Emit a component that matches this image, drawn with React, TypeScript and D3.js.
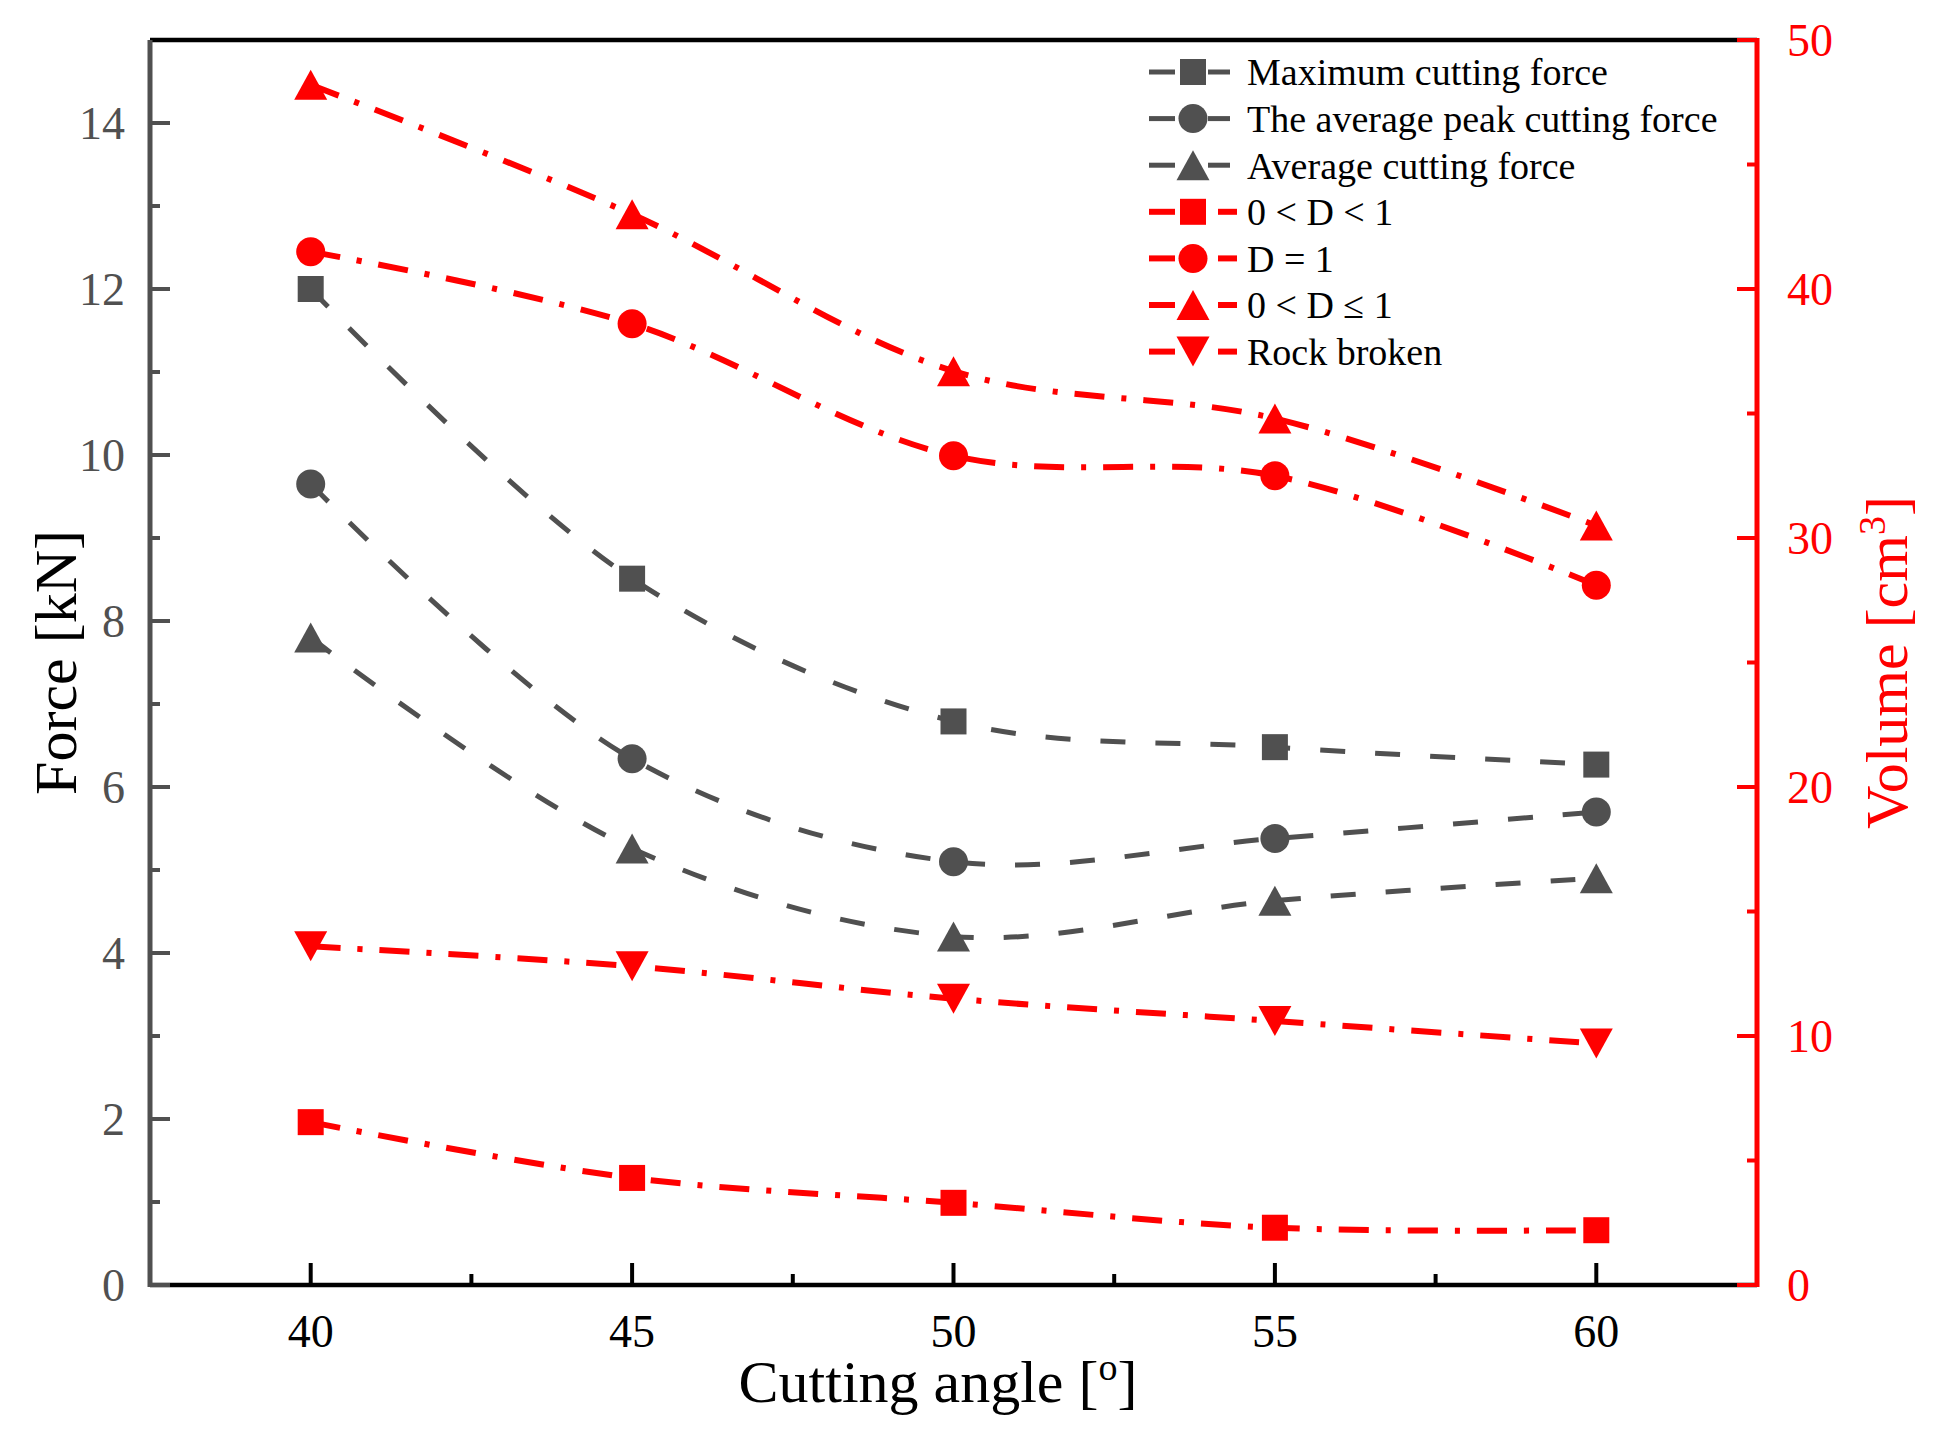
import { useEffect } from 'react'
import * as d3 from 'd3'

const angles = [40, 45, 50, 55, 60]
const maxForce = [12.0, 8.51, 6.79, 6.48, 6.27]
const avgPeakForce = [9.65, 6.34, 5.1, 5.38, 5.7]
const avgForce = [7.8, 5.26, 4.2, 4.63, 4.9]
const volPartial = [6.54, 4.3, 3.3, 2.3, 2.2]
const volFull = [41.5, 38.6, 33.3, 32.5, 28.1]
const volAll = [48.2, 43.0, 36.7, 34.8, 30.5]
const volBroken = [13.6, 12.8, 11.5, 10.6, 9.7]

const forceTicks = [0, 2, 4, 6, 8, 10, 12, 14]
const forceMinor = [1, 3, 5, 7, 9, 11, 13]
const volumeTicks = [0, 10, 20, 30, 40, 50]
const volumeMinor = [5, 15, 25, 35, 45]
const angleTicks = [40, 45, 50, 55, 60]
const angleMinor = [42.5, 47.5, 52.5, 57.5]

const GRAY = '#505050'
const RED = '#ff0000'
const FONT = '"Liberation Serif", "Times New Roman", Times, serif'

type Shape = 'square' | 'circle' | 'up' | 'down'
const series: { label: string; values: number[]; axis: 'left' | 'right'; shape: Shape; color: string }[] = [
  { label: 'Maximum cutting force', values: maxForce, axis: 'left', shape: 'square', color: GRAY },
  { label: 'The average peak cutting force', values: avgPeakForce, axis: 'left', shape: 'circle', color: GRAY },
  { label: 'Average cutting force', values: avgForce, axis: 'left', shape: 'up', color: GRAY },
  { label: '0 < D < 1', values: volPartial, axis: 'right', shape: 'square', color: RED },
  { label: 'D = 1', values: volFull, axis: 'right', shape: 'circle', color: RED },
  { label: '0 < D \u2264 1', values: volAll, axis: 'right', shape: 'up', color: RED },
  { label: 'Rock broken', values: volBroken, axis: 'right', shape: 'down', color: RED },
]

function Marker({ shape, x, y, color }: { shape: Shape; x: number; y: number; color: string }) {
  if (shape === 'circle') return <circle cx={x} cy={y} r={14.5} fill={color} />
  if (shape === 'square') return <rect x={x - 13} y={y - 13} width={26} height={26} fill={color} />
  const w = 33, h = 30
  const d = shape === 'up'
    ? `M${x},${y - h / 2}L${x + w / 2},${y + h / 2}L${x - w / 2},${y + h / 2}Z`
    : `M${x},${y + h / 2}L${x + w / 2},${y - h / 2}L${x - w / 2},${y - h / 2}Z`
  return <path d={d} fill={color} />
}

export default function App() {
  useEffect(() => { document.body.style.margin = '0' }, [])

  const W = 1950, H = 1440
  const left = 150, right = 1757, top = 40, bottom = 1285

  const x = d3.scaleLinear().domain([37.5, 62.5]).range([left, right])
  const yL = d3.scaleLinear().domain([0, 15]).range([bottom, top])
  const yR = d3.scaleLinear().domain([0, 50]).range([bottom, top])

  const legendX = 1149, legendText = 1247, legendY0 = 72, legendStep = 46.6

  return (
    <svg width={W} height={H} viewBox={`0 0 ${W} ${H}`} style={{ display: 'block', background: '#fff', fontFamily: FONT }}>
      {/* lines */}
      {series.map(s => {
        const y = s.axis === 'left' ? yL : yR
        const line = d3.line<number>()
          .x((_, i) => x(angles[i]))
          .y(v => y(v))
          .curve(d3.curveCatmullRom.alpha(0.5))
        return (
          <path key={s.label + 'l'} d={line(s.values) || ''} fill="none" stroke={s.color}
            strokeWidth={s.axis === 'left' ? 5 : 6}
            strokeDasharray={s.axis === 'left' ? '25,30' : '30,17,5,17'} />
        )
      })}
      {/* markers */}
      {series.map(s => {
        const y = s.axis === 'left' ? yL : yR
        return s.values.map((v, i) => (
          <Marker key={s.label + i} shape={s.shape} x={x(angles[i])} y={y(v)} color={s.color} />
        ))
      })}

      {/* frame top */}
      <line x1={left} x2={right} y1={top} y2={top} stroke="#000" strokeWidth={4.5} />
      {/* bottom axis */}
      <line x1={left} x2={right} y1={bottom} y2={bottom} stroke="#000" strokeWidth={4.5} />
      {angleTicks.map(t => (
        <g key={'xt' + t}>
          <line x1={x(t)} x2={x(t)} y1={bottom} y2={bottom - 22} stroke="#000" strokeWidth={4} />
          <text x={x(t)} y={1347} textAnchor="middle" fontSize={46} fill="#000">{t}</text>
        </g>
      ))}
      {angleMinor.map(t => (
        <line key={'xm' + t} x1={x(t)} x2={x(t)} y1={bottom} y2={bottom - 11} stroke="#000" strokeWidth={4} />
      ))}

      {/* left axis */}
      <line x1={left} x2={left} y1={top} y2={bottom + 2} stroke={GRAY} strokeWidth={5} />
      {forceTicks.map(t => (
        <g key={'yl' + t}>
          <line x1={left} x2={left + 20} y1={yL(t)} y2={yL(t)} stroke={GRAY} strokeWidth={4} />
          <text x={left - 25} y={yL(t)} dy="0.35em" textAnchor="end" fontSize={46} fill={GRAY}>{t}</text>
        </g>
      ))}
      {forceMinor.map(t => (
        <line key={'ylm' + t} x1={left} x2={left + 10} y1={yL(t)} y2={yL(t)} stroke={GRAY} strokeWidth={4} />
      ))}

      {/* right axis */}
      <line x1={right} x2={right} y1={top - 2} y2={bottom + 2} stroke={RED} strokeWidth={5} />
      {volumeTicks.map(t => (
        <g key={'yr' + t}>
          <line x1={right} x2={right - 20} y1={yR(t)} y2={yR(t)} stroke={RED} strokeWidth={4} />
          <text x={right + 30} y={yR(t)} dy="0.35em" textAnchor="start" fontSize={46} fill={RED}>{t}</text>
        </g>
      ))}
      {volumeMinor.map(t => (
        <line key={'yrm' + t} x1={right} x2={right - 10} y1={yR(t)} y2={yR(t)} stroke={RED} strokeWidth={4} />
      ))}

      {/* axis titles */}
      <text x={938} y={1402} textAnchor="middle" fontSize={60} fill="#000">
        Cutting angle [<tspan dy={-22} fontSize={38}>o</tspan><tspan dy={22}>]</tspan>
      </text>
      <text transform={`translate(76,${(top + bottom) / 2}) rotate(-90)`} textAnchor="middle" fontSize={60} fill="#000">
        Force [kN]
      </text>
      <text transform={`translate(1907,${(top + bottom) / 2}) rotate(-90)`} textAnchor="middle" fontSize={60} fill={RED}>
        Volume [cm<tspan dy={-22} fontSize={38}>3</tspan><tspan dy={22}>]</tspan>
      </text>

      {/* legend */}
      {series.map((s, i) => {
        const ly = legendY0 + i * legendStep
        const mx = 1193
        const isRed = s.axis === 'right'
        const sw = isRed ? 6 : 5
        return (
          <g key={'lg' + i}>
            <line x1={legendX} x2={1175} y1={ly} y2={ly} stroke={s.color} strokeWidth={sw} />
            {isRed
              ? <line x1={1218} x2={1237} y1={ly} y2={ly} stroke={s.color} strokeWidth={sw} />
              : <line x1={1208} x2={1230} y1={ly} y2={ly} stroke={s.color} strokeWidth={sw} />}
            <Marker shape={s.shape} x={mx} y={ly} color={s.color} />
            <text x={legendText} y={ly} dy="0.35em" fontSize={38} fill="#000">{s.label}</text>
          </g>
        )
      })}
    </svg>
  )
}
